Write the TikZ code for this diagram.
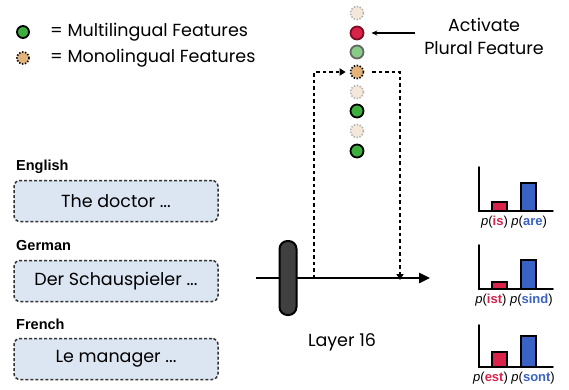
\documentclass[tikz,border=0pt]{standalone}
\usepackage{fontspec}
\setmainfont{Poppins}
\newfontfamily\lab{Liberation Sans}
\usetikzlibrary{arrows.meta}
\definecolor{mgreen}{HTML}{3DAE3D}
\definecolor{lgreen}{HTML}{86CC86}
\definecolor{mtan}{HTML}{E2B47C}
\definecolor{faint}{HTML}{F4E8DA}
\definecolor{mred}{HTML}{D9234B}
\definecolor{dred}{HTML}{7E0E24}
\definecolor{mblue}{HTML}{3A62C4}
\definecolor{boxblue}{HTML}{DCE6F3}
\begin{document}
\begin{tikzpicture}[x=1pt,y=-1pt,
  feat/.style={circle,inner sep=0pt,minimum size=13pt},
  multi/.style={feat,fill=mgreen,draw=black,line width=1.8pt},
  mono/.style={feat,fill=mtan,draw=black,line width=1.6pt,dash pattern=on 1.4pt off 1.6pt},
  faintf/.style={feat,fill=faint,draw=gray!60,line width=1.6pt,dash pattern=on 1.4pt off 1.6pt},
  redf/.style={feat,fill=mred,draw=dred,line width=1.8pt},
  lgf/.style={feat,fill=lgreen,draw=black!60,line width=1.8pt},
  txt/.style={font=\fontsize{17.5}{21}\selectfont,inner sep=0pt},
  langlab/.style={font=\lab\bfseries\fontsize{14.5}{16}\selectfont,anchor=west,inner sep=0pt},
  sent/.style={draw=black!80,fill=boxblue,dash pattern=on 3pt off 2pt,line width=1.5pt,rounded corners=6pt,minimum width=204pt,minimum height=41pt,font=\fontsize{17.5}{21}\selectfont},
  dashline/.style={line width=2pt,dash pattern=on 3.5pt off 3pt},
  axis/.style={line width=1.8pt},
  bar/.style={draw=black,line width=1.5pt},
  plab/.style={font=\lab\fontsize{13}{15}\selectfont,inner sep=0pt}
]
\useasboundingbox (0,0) rectangle (569,389);
% legend
\node[multi,minimum size=12pt] (lg1) at (23,32) {};
\node[txt,anchor=west] (lt1) at (50,32) {= Multilingual Features};
\node[mono,minimum size=12pt] (lg2) at (23,58) {};
\node[txt,anchor=west] (lt2) at (50,58) {= Monolingual Features};
% feature column
\node[faintf] (f1) at (357,13) {};
\node[redf] (f2) at (357,33) {};
\node[lgf] (f3) at (357,52) {};
\node[mono] (f4) at (357,72) {};
\node[faintf] (f5) at (357,92) {};
\node[multi] (f6) at (357,111) {};
\node[faintf] (f7) at (357,131) {};
\node[multi] (f8) at (357,151) {};
% activate label
\node[txt] (act1) at (484,25) {Activate};
\node[txt] (act2) at (484,48) {Plural Feature};
\coordinate (actS) at (415,33);
\draw[line width=1.2pt,-{Stealth[length=6pt,width=5pt]}] (actS) -- ([xshift=7pt]f2.east);
% sentence boxes
\node[langlab] (en) at (16,167) {English};
\node[sent] (b1) at (116,201) {The doctor ...};
\node[langlab] (de) at (16,246) {German};
\node[sent] (b2) at (116,281) {Der Schauspieler ...};
\node[langlab] (fr) at (16,324) {French};
\node[sent] (b3) at (116,359) {Le manager ...};
% main line
\coordinate (ls) at (256,278);
\coordinate (le) at (430,278);
\draw[line width=2.5pt,-{Triangle[length=11pt,width=10pt]}] (ls) -- (le);
\node[draw=black,fill=black!75,line width=2pt,rounded corners=8pt,minimum width=17pt,minimum height=74pt,inner sep=0pt] (pill) at (288,278) {};
\node[txt] (layer) at (342,342) {Layer 16};
% dashed loop
\coordinate (dl) at (314,278);
\coordinate (dr) at (400,278);
\draw[dashline,-{Triangle[length=6pt,width=7pt]}] (dl) |- ([xshift=-4pt]f4.west);
\draw[dashline,-{Triangle[length=6pt,width=7pt]}] ([xshift=8pt]f4.east) -| ([yshift=-2pt]dr);
% charts
\foreach \i/\top/\base/\rt/\bt/\ra/\rb in {1/167/211/202/183/is/are, 2/245/289/282/260/ist/sind, 3/325/367/352/336/est/sont}{
  \coordinate (ya\i) at (479,\top);
  \coordinate (o\i) at (479,\base);
  \coordinate (xa\i) at (553,\base);
  \draw[bar,fill=mred] (492,\base) rectangle (507,\rt);
  \draw[bar,fill=mblue] (521,\base) rectangle (536,\bt);
  \draw[axis,line cap=round] (ya\i) -- (o\i) -- (xa\i);
  \node[plab] (pl\i) at (514,\base+11) {\textit{p}(\textcolor{mred}{\bfseries\ra}) \textit{p}(\textcolor{mblue}{\bfseries\rb})};
}
\end{tikzpicture}
\end{document}
